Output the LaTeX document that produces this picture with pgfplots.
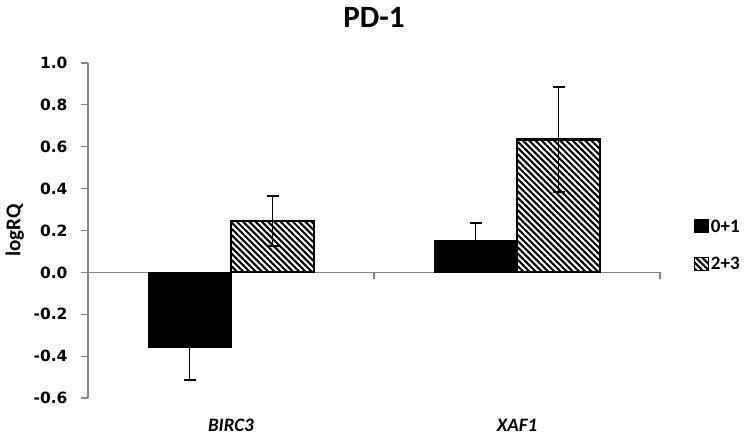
\documentclass[border=0pt]{standalone}
\usepackage{pgfplots}
\pgfplotsset{compat=1.18}
\usepackage{fontspec}
\setmainfont{Carlito}
\newfontfamily\tickfont{DejaVu Sans}
\usetikzlibrary{patterns.meta}

\pgfplotstableread{
x  val    err
0 -0.36  0.155
1  0.15  0.085
}\lowgrade
\pgfplotstableread{
x  val    err
0  0.245 0.12
1  0.635 0.25
}\highgrade

\definecolor{axisgray}{RGB}{134,134,134}
\tikzset{hatch/.style={pattern={Lines[angle=135, distance=4.4bp, line width=2.1bp]}}}

\begin{document}
\begin{tikzpicture}
\path[use as bounding box] (0,0) rectangle (750bp,439bp);
\begin{axis}[
  at={(88bp,41bp)}, anchor=south west,
  scale only axis, width=572bp, height=335bp,
  xmin=-0.5, xmax=1.5, ymin=-0.6, ymax=1.0,
  ytick={-0.6,-0.4,...,1.01},
  yticklabel style={/pgf/number format/fixed,/pgf/number format/fixed zerofill,/pgf/number format/precision=1,
    /pgf/number format/assume math mode=true, font=\tickfont\bfseries\fontsize{15.5bp}{18bp}\selectfont,
    xshift=-10bp},
  yticklabel={\pgfmathprintnumber{\tick}},
  axis y line*=left,
  axis x line*=bottom,
  x axis line style={draw=none},
  y axis line style={axisgray, line width=1.2bp, -},
  ytick style={axisgray, line width=1.2bp},
  tick align=outside,
  major tick length=7bp,
  xtick={0,1}, xticklabels={\textit{BIRC3},\textit{XAF1}},
  xtick style={draw=none},
  xticklabel style={font=\bfseries\fontsize{19bp}{21bp}\selectfont, yshift=-11bp},
  ylabel={\textbf{logRQ}},
  ylabel style={font=\bfseries\fontsize{21bp}{23bp}\selectfont,
    at={(axis description cs:-0.128,0.5)}, anchor=center},
  title={\textbf{PD-1}},
  title style={font=\bfseries\fontsize{31bp}{34bp}\selectfont, yshift=26bp},
  ybar, bar width=83bp,
  legend style={draw=none, at={(1,0.5)}, anchor=west, xshift=31bp, yshift=-15bp,
    font=\bfseries\fontsize{19bp}{21bp}\selectfont, row sep=20bp, fill=none},
  legend image code/.code={\draw[#1, draw=black, line width=0.8bp] (0bp,-6bp) rectangle (14bp,7bp);},
  clip=false,
]
% zero line with category separators
\draw[axisgray, line width=1.2bp] (axis cs:-0.5,0) -- (axis cs:1.5,0);
\draw[axisgray, line width=1.2bp] (axis cs:0.5,0) -- ([yshift=-7bp]axis cs:0.5,0);
\draw[axisgray, line width=1.2bp] (axis cs:1.5,0) -- ([yshift=-7bp]axis cs:1.5,0);

\addplot[ybar, bar shift=-41.5bp, fill=black, draw=black, line width=1bp,
  error bars/.cd, y dir=both, y explicit,
  error bar style={black, line width=1.5bp}, error mark options={black, line width=1.5bp, mark size=6bp, rotate=90}]
  table[x=x, y=val, y error=err] {\lowgrade};
\addplot[ybar, bar shift=41.5bp, hatch, draw=black, line width=2.2bp,
  error bars/.cd, y dir=both, y explicit,
  error bar style={black, line width=1.5bp}, error mark options={black, line width=1.5bp, mark size=6bp, rotate=90}]
  table[x=x, y=val, y error=err] {\highgrade};
\legend{0+1, 2+3}
\end{axis}
\end{tikzpicture}
\end{document}
